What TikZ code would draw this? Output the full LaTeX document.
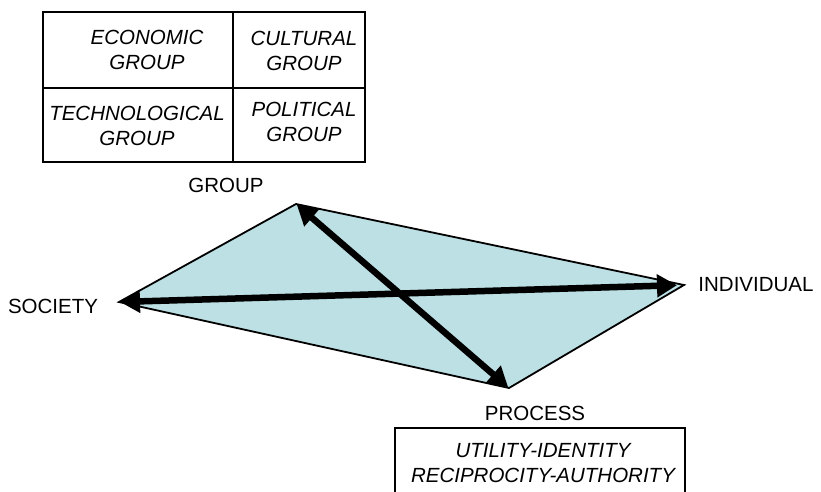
\documentclass[tikz,border=0pt]{standalone}
\usepackage{fontspec}
\setmainfont{Liberation Sans}
\usetikzlibrary{arrows.meta}
\definecolor{quadfill}{RGB}{188,224,228}
\tikzset{
  lbl/.style={font=\fontsize{20.5}{24}\selectfont, inner sep=0pt},
  boxtxt/.style={font=\fontsize{20.5}{24.5}\selectfont\itshape, align=center, inner sep=0pt},
  cell/.style={draw, line width=1.6pt, inner sep=0pt},
  dblarrow/.style={line width=6.5pt, {Triangle[length=20pt,width=22pt]}-{Triangle[length=20pt,width=22pt]}},
}
\begin{document}
\begin{tikzpicture}[x=1pt,y=-1pt]
\clip (0,0) rectangle (821,492);
% top grid of four cells
\node[cell, minimum width=190pt, minimum height=76pt] (ce) at (138,50) {};
\node[cell, minimum width=132pt, minimum height=76pt] (cc) at (299,50) {};
\node[cell, minimum width=190pt, minimum height=74pt] (ct) at (138,125) {};
\node[cell, minimum width=132pt, minimum height=74pt] (cp) at (299,125) {};
\node[boxtxt] (te) at (147,50) {ECONOMIC\\GROUP};
\node[boxtxt] (tc) at (304,51) {CULTURAL\\GROUP};
\node[boxtxt] (tt) at (137,126) {TECHNOLOGICAL\\GROUP};
\node[boxtxt] (tp) at (304,122) {POLITICAL\\GROUP};
% quadrilateral
\coordinate (G) at (296,204);
\coordinate (S) at (119,302);
\coordinate (I) at (684,285);
\coordinate (P) at (509,388);
\filldraw[fill=quadfill, line width=1.8pt, line join=miter] (G) -- (I) -- (P) -- (S) -- cycle;
\draw[dblarrow, shorten >=7pt, shorten <=1pt] (S) -- (I);
\draw[dblarrow, shorten >=1pt, shorten <=1pt] (G) -- (P);
% labels
\node[lbl] (lg) at (226,185) {GROUP};
\node[lbl] (ls) at (53,306) {SOCIETY};
\node[lbl] (li) at (756,285) {INDIVIDUAL};
\node[lbl] (lp) at (535,413) {PROCESS};
% bottom box
\node[draw, line width=1.6pt, minimum width=290pt, minimum height=80pt, inner sep=0pt] (pb) at (540,468) {};
\node[boxtxt] (pt) at (543,463) {UTILITY-IDENTITY\\RECIPROCITY-AUTHORITY};
\end{tikzpicture}
\end{document}
